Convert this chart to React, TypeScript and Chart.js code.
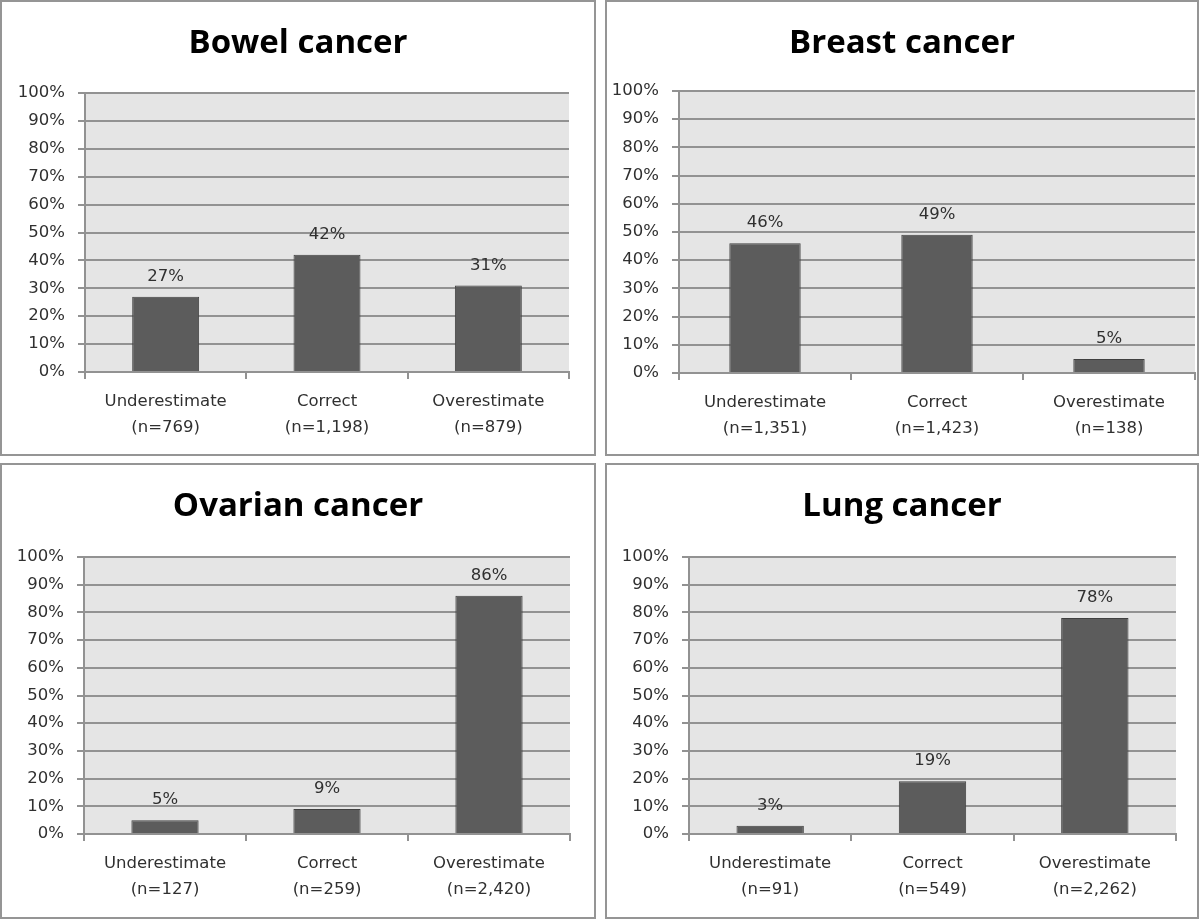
import React, { useEffect, useRef } from "react";
import { Chart, registerables } from "chart.js";

Chart.register(...registerables);

// ---------- data ----------
const categories = ["Underestimate", "Correct", "Overestimate"];
const titles = ["Bowel cancer", "Breast cancer", "Ovarian cancer", "Lung cancer"];

const bowelValues = [27, 42, 31];
const breastValues = [46, 49, 5];
const ovarianValues = [5, 9, 86];
const lungValues = [3, 19, 78];

const bowelN = ["769", "1,198", "879"];
const breastN = ["1,351", "1,423", "138"];
const ovarianN = ["127", "259", "2,420"];
const lungN = ["91", "549", "2,262"];

const yMin = 0;
const yMax = 100;
const yStep = 10;

// ---------- layout (page coordinates) ----------
type Box = { x: number; y: number; w: number; h: number };
type Area = { left: number; right: number; top: number; bottom: number };

const panelLayouts: { box: Box; area: Area }[] = [
  { box: { x: 0, y: 0, w: 596, h: 456 }, area: { left: 85, right: 569, top: 93, bottom: 372 } },
  { box: { x: 605, y: 0, w: 594, h: 456 }, area: { left: 679, right: 1195, top: 91, bottom: 373 } },
  { box: { x: 0, y: 463, w: 596, h: 456 }, area: { left: 84, right: 570, top: 557, bottom: 834 } },
  { box: { x: 605, y: 463, w: 594, h: 456 }, area: { left: 689, right: 1176, top: 557, bottom: 834 } },
];

const BORDER = 2;
const TITLE_CENTER = 42; // relative to canvas top
const TITLE_SIZE = 33;
const TITLE_LH = 40;
const LABEL_SIZE = 16.5;

const GRID = "#929292";
const TEXT = "#303030";
const PLOT_BG = "#e5e5e5";
const BAR = "#5c5c5c";
const BAR_EDGE = "#404040";
const FONT = "'DejaVu Sans', sans-serif";

const plotBgPlugin = {
  id: "plotBg",
  beforeDraw(chart: any) {
    const { ctx, chartArea } = chart;
    if (!chartArea) return;
    ctx.save();
    ctx.fillStyle = PLOT_BG;
    ctx.fillRect(chartArea.left, chartArea.top, chartArea.right - chartArea.left, chartArea.bottom - chartArea.top);
    ctx.restore();
  },
};

const valueLabelPlugin = {
  id: "valueLabels",
  afterDatasetsDraw(chart: any) {
    const { ctx } = chart;
    const meta = chart.getDatasetMeta(0);
    const data = chart.data.datasets[0].data as number[];
    ctx.save();
    ctx.fillStyle = TEXT;
    ctx.font = `${LABEL_SIZE}px ${FONT}`;
    ctx.textAlign = "center";
    ctx.textBaseline = "alphabetic";
    meta.data.forEach((el: any, i: number) => {
      ctx.fillText(`${Math.round(data[i])}%`, el.x, el.y - 16);
    });
    ctx.restore();
  },
};

function Panel({ title, values, ns, box, area }: { title: string; values: number[]; ns: string[]; box: Box; area: Area }) {
  const ref = useRef<HTMLCanvasElement | null>(null);
  const cw = box.w - 2 * BORDER;
  const ch = box.h - 2 * BORDER;
  const cLeft = box.x + BORDER;
  const cTop = box.y + BORDER;

  useEffect(() => {
    if (!ref.current) return;
    const rightGap = cLeft + cw - area.right;
    const yW = area.left - cLeft;
    const xH = cTop + ch - area.bottom;
    const titleTotal = area.top - cTop;
    const pt = TITLE_CENTER - TITLE_LH / 2;
    const pb = titleTotal - TITLE_LH - pt;

    const chart = new Chart(ref.current, {
      type: "bar",
      data: {
        labels: categories.map((c, i) => [c, `(n=${ns[i]})`]),
        datasets: [
          {
            data: values,
            backgroundColor: BAR,
            borderColor: BAR_EDGE,
            borderWidth: 1,
            barPercentage: 0.415,
            categoryPercentage: 1,
          },
        ],
      },
      options: {
        responsive: false,
        animation: false,
        devicePixelRatio: 1,
        layout: { padding: 0 },
        plugins: {
          legend: { display: false },
          tooltip: { enabled: false },
          title: {
            display: true,
            text: title,
            color: "#000000",
            font: { family: "'Open Sans', sans-serif", size: TITLE_SIZE, weight: "bold", lineHeight: TITLE_LH / TITLE_SIZE },
            padding: { top: pt, bottom: pb },
          },
        },
        scales: {
          x: {
            offset: true,
            grid: { offset: true, drawOnChartArea: false, drawTicks: true, tickLength: 7, color: GRID, lineWidth: 2 },
            border: { color: GRID, width: 2 },
            ticks: {
              color: TEXT,
              font: { family: FONT, size: LABEL_SIZE, lineHeight: 26 / LABEL_SIZE },
              padding: 10,
              maxRotation: 0,
              autoSkip: false,
            },
            afterFit: (s: any) => {
              s.height = xH;
            },
          },
          y: {
            min: yMin,
            max: yMax,
            grid: { color: GRID, tickLength: 7, lineWidth: 2 },
            border: { color: GRID, width: 2 },
            ticks: {
              stepSize: yStep,
              color: TEXT,
              font: { family: FONT, size: LABEL_SIZE },
              padding: 13,
              callback: (v: any) => `${v}%`,
            },
            afterFit: (s: any) => {
              s.width = yW;
            },
          },
          // empty spacer on the right, keeps the plot clear of the panel edge
          yRightGap: {
            position: "right",
            display: true,
            grid: { display: false, drawTicks: false },
            border: { display: false },
            ticks: { display: false },
            afterFit: (s: any) => {
              s.width = rightGap;
            },
          },
        },
      },
      plugins: [plotBgPlugin, valueLabelPlugin],
    } as any);
    return () => chart.destroy();
  }, []);

  return (
    <div
      style={{
        position: "absolute",
        left: box.x,
        top: box.y,
        width: box.w,
        height: box.h,
        boxSizing: "border-box",
        border: `${BORDER}px solid #959595`,
        background: "#fff",
      }}
    >
      <canvas ref={ref} width={cw} height={ch} style={{ display: "block", width: cw, height: ch }} />
    </div>
  );
}

export default function App() {
  const values = [bowelValues, breastValues, ovarianValues, lungValues];
  const ns = [bowelN, breastN, ovarianN, lungN];
  return (
    <div style={{ position: "fixed", left: 0, top: 0, width: 1200, height: 919, background: "#fff", overflow: "hidden" }}>
      {panelLayouts.map((p, i) => (
        <Panel key={i} title={titles[i]} values={values[i]} ns={ns[i]} box={p.box} area={p.area} />
      ))}
    </div>
  );
}
